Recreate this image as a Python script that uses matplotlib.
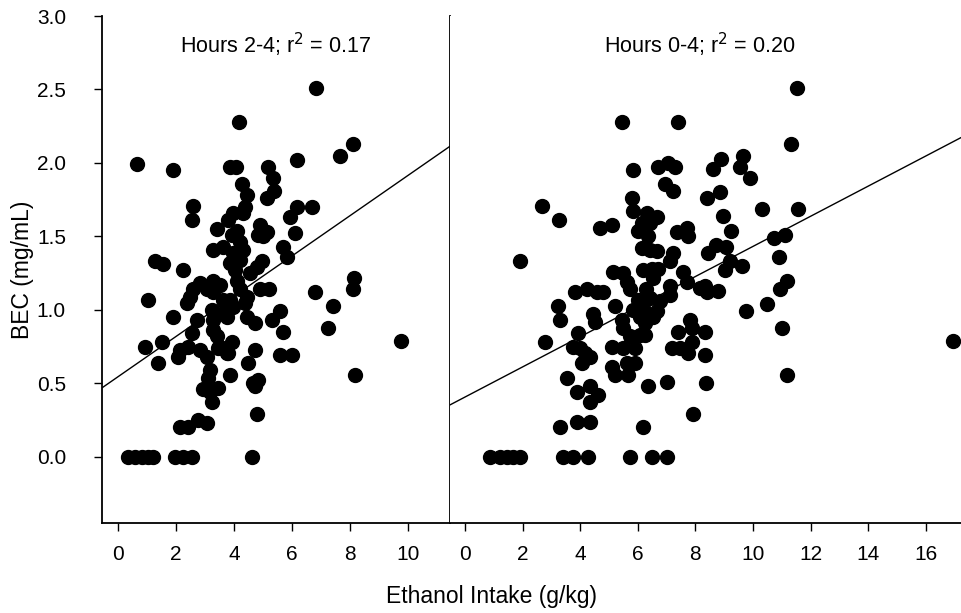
import numpy as np
import matplotlib.pyplot as plt

plt.rcParams['font.family'] = ['Liberation Sans', 'DejaVu Sans']

# hours 2-4 panel: ethanol intake (g/kg) vs BEC (mg/mL)
x_24 = [0.66, 1.90, 2.59, 2.55, 1.28, 1.55, 2.24, 1.03, 1.90, 0.93, 1.52, 1.38,
        2.38, 2.59, 2.83, 3.07, 2.72, 2.55, 2.14, 2.41, 2.07, 2.83, 3.07, 3.17,
        3.10, 3.45, 3.93, 3.79, 3.86, 2.93, 3.17, 3.45, 3.24, 2.14, 2.41, 2.76,
        3.07, 0.34, 0.59, 0.83, 1.03, 1.21, 1.97, 2.24, 2.55, 4.62, 4.17, 3.86,
        4.07, 5.17, 5.34, 6.17, 4.28, 4.45, 4.38, 5.14, 5.38, 3.41, 3.79, 3.97,
        4.31, 4.10, 4.21, 3.93, 4.90, 5.14, 4.83, 5.00, 3.28, 3.62, 3.97, 4.21,
        4.31, 4.97, 4.79, 6.17, 6.69, 5.93, 6.10, 5.69, 5.83, 6.83, 8.10, 7.66,
        8.14, 8.10, 6.79, 7.41, 7.24, 9.76, 8.17, 5.59, 5.31, 5.69, 5.59, 6.00,
        5.21, 4.90, 4.72, 4.48, 4.66, 4.83, 4.72, 4.79, 3.28, 3.52, 3.28, 3.62,
        4.21, 3.86, 3.97, 4.45, 4.38, 3.24, 3.28, 3.62, 3.76, 4.45, 4.72, 3.28,
        3.41, 3.52, 3.76, 4.03, 4.10, 2.48, 3.86, 4.55]
y_24 = [1.99, 1.95, 1.71, 1.61, 1.33, 1.31, 1.27, 1.07, 0.95, 0.75, 0.78, 0.64,
        1.05, 1.14, 1.18, 1.14, 0.93, 0.84, 0.73, 0.75, 0.68, 0.73, 0.68, 0.59,
        0.54, 0.74, 0.78, 0.71, 0.56, 0.46, 0.44, 0.47, 0.37, 0.20, 0.20, 0.25,
        0.23, 0.0, 0.0, 0.0, 0.0, 0.0, 0.0, 0.0, 0.0, 0.0, 2.28, 1.97,
        1.97, 1.97, 1.90, 2.02, 1.86, 1.78, 1.70, 1.76, 1.81, 1.55, 1.61, 1.66,
        1.66, 1.54, 1.46, 1.51, 1.58, 1.53, 1.51, 1.50, 1.41, 1.43, 1.39, 1.34,
        1.41, 1.33, 1.29, 1.70, 1.70, 1.63, 1.52, 1.43, 1.36, 2.51, 2.13, 2.05,
        1.22, 1.14, 1.12, 1.03, 0.88, 0.79, 0.56, 0.99, 0.93, 0.85, 0.69, 0.69,
        1.14, 1.14, 0.73, 0.64, 0.50, 0.52, 0.48, 0.29, 1.20, 1.17, 1.12, 1.07,
        1.14, 1.07, 1.02, 1.09, 1.05, 1.00, 0.93, 0.98, 0.95, 0.95, 0.91, 0.86,
        0.82, 0.75, 0.71, 1.27, 1.20, 1.09, 1.32, 1.25]

# hours 0-4 panel
x_04 = [1.91, 2.67, 3.26, 4.69, 5.10, 5.45, 7.40, 5.83, 6.70, 7.05, 7.29, 6.94,
        7.22, 5.80, 5.83, 6.32, 6.67, 6.15, 6.42, 6.01, 6.35, 7.36, 7.71, 7.74,
        8.40, 6.15, 6.42, 6.67, 7.22, 7.12, 7.57, 5.14, 5.49, 6.18, 6.49, 6.70,
        11.53, 11.32, 8.89, 8.61, 9.65, 9.55, 9.90, 8.85, 8.96, 10.31, 11.56, 9.24,
        8.44, 8.72, 9.06, 9.20, 9.03, 9.62, 10.73, 11.11, 10.90, 11.18, 10.94, 5.63,
        5.73, 6.53, 7.71, 7.12, 7.12, 6.28, 6.01, 6.42, 6.77, 6.18, 5.83, 6.67,
        6.08, 6.53, 6.25, 5.21, 5.45, 5.49, 3.82, 4.24, 4.58, 4.79, 4.44, 4.51,
        3.23, 3.30, 7.81, 7.88, 7.40, 8.33, 3.92, 3.75, 3.99, 4.17, 4.34, 4.06,
        2.78, 5.73, 6.08, 6.25, 5.10, 5.49, 5.90, 7.19, 7.47, 7.74, 7.88, 8.33,
        5.10, 5.21, 5.63, 5.90, 5.66, 3.54, 3.89, 4.34, 4.62, 4.34, 6.35, 7.01,
        3.30, 3.89, 4.34, 6.18, 7.92, 8.37, 8.33, 8.40, 8.78, 8.16, 10.49, 9.76,
        11.01, 11.18, 16.94, 0.87, 1.22, 1.46, 1.67, 1.91, 3.40, 3.75, 4.27, 5.73,
        6.49, 7.01]
y_04 = [1.33, 1.71, 1.61, 1.56, 1.58, 2.28, 2.28, 1.95, 1.97, 2.00, 1.97, 1.86,
        1.81, 1.76, 1.67, 1.66, 1.63, 1.59, 1.59, 1.54, 1.50, 1.53, 1.56, 1.50,
        1.76, 1.42, 1.41, 1.40, 1.39, 1.33, 1.26, 1.26, 1.25, 1.27, 1.28, 1.28,
        2.51, 2.13, 2.03, 1.96, 2.05, 1.97, 1.90, 1.80, 1.64, 1.69, 1.69, 1.54,
        1.39, 1.44, 1.43, 1.33, 1.27, 1.30, 1.49, 1.51, 1.36, 1.20, 1.14, 1.19,
        1.14, 1.22, 1.19, 1.16, 1.10, 1.14, 1.07, 1.08, 1.06, 1.01, 1.00, 0.99,
        0.95, 0.95, 0.91, 1.03, 0.93, 0.88, 1.12, 1.14, 1.12, 1.12, 0.97, 0.92,
        1.03, 0.93, 0.93, 0.88, 0.85, 0.85, 0.84, 0.75, 0.74, 0.71, 0.68, 0.64,
        0.78, 0.82, 0.83, 0.83, 0.75, 0.74, 0.74, 0.74, 0.74, 0.71, 0.78, 0.69,
        0.61, 0.56, 0.64, 0.64, 0.56, 0.54, 0.44, 0.48, 0.42, 0.37, 0.48, 0.51,
        0.20, 0.24, 0.24, 0.20, 0.29, 0.50, 1.16, 1.12, 1.13, 1.15, 1.04, 0.99,
        0.88, 0.56, 0.79, 0.0, 0.0, 0.0, 0.0, 0.0, 0.0, 0.0, 0.0, 0.0,
        0.0, 0.0]

# regression lines (intercept, slope)
fit_24 = (0.545, 0.137)
fit_04 = (0.407, 0.1025)

titles = ['Hours 2-4; r$^2$ = 0.17', 'Hours 0-4; r$^2$ = 0.20']
x_ticks_24 = [0, 2, 4, 6, 8, 10]
x_ticks_04 = [0, 2, 4, 6, 8, 10, 12, 14, 16]
y_ticks = [0.0, 0.5, 1.0, 1.5, 2.0, 2.5, 3.0]

fig = plt.figure(figsize=(9.62, 6.13), dpi=100)
ax1 = fig.add_axes([102/962, 1-523/613, 348/962, 507/613])
ax2 = fig.add_axes([450/962, 1-523/613, 512/962, 507/613])

panels = [(ax1, x_24, y_24, fit_24, (-0.55, 11.45), x_ticks_24, 0.5, titles[0]),
          (ax2, x_04, y_04, fit_04, (-0.52, 17.26), x_ticks_04, 0.488, titles[1])]

for ax, xs, ys, fit, xlim, xt, tx, title in panels:
    ax.plot(xs, ys, 'o', color='black', ms=10, mec='black', clip_on=False, zorder=3)
    xx = np.array(xlim)
    ax.plot(xx, fit[0] + fit[1]*xx, color='black', lw=1)
    ax.set_xlim(xlim)
    ax.set_ylim(-0.45, 3.0)
    ax.set_xticks(xt)
    ax.set_xticklabels([str(t) for t in xt])
    ax.tick_params(axis='x', direction='out', length=6, width=1, pad=10, labelsize=15)
    ax.spines['top'].set_visible(False)
    for s in ax.spines.values():
        s.set_linewidth(1.3)
    ax.text(tx, 0.943, title, transform=ax.transAxes,
            ha='center', va='center', fontsize=15.5)

ax1.set_yticks(y_ticks)
ax1.set_yticklabels(['%.1f' % t for t in y_ticks])
ax1.tick_params(axis='y', direction='out', length=6, width=1, pad=20, labelsize=15)
ax2.spines['right'].set_visible(False)
ax2.spines['left'].set_visible(False)
ax2.set_yticks([])

fig.text(492/962, 1-596/613, 'Ethanol Intake (g/kg)', ha='center', va='center', fontsize=16.5)
fig.text(22/962, 1-270/613, 'BEC (mg/mL)', ha='center', va='center', rotation=90, fontsize=16.5)

fig.savefig('out.png', dpi=100)
